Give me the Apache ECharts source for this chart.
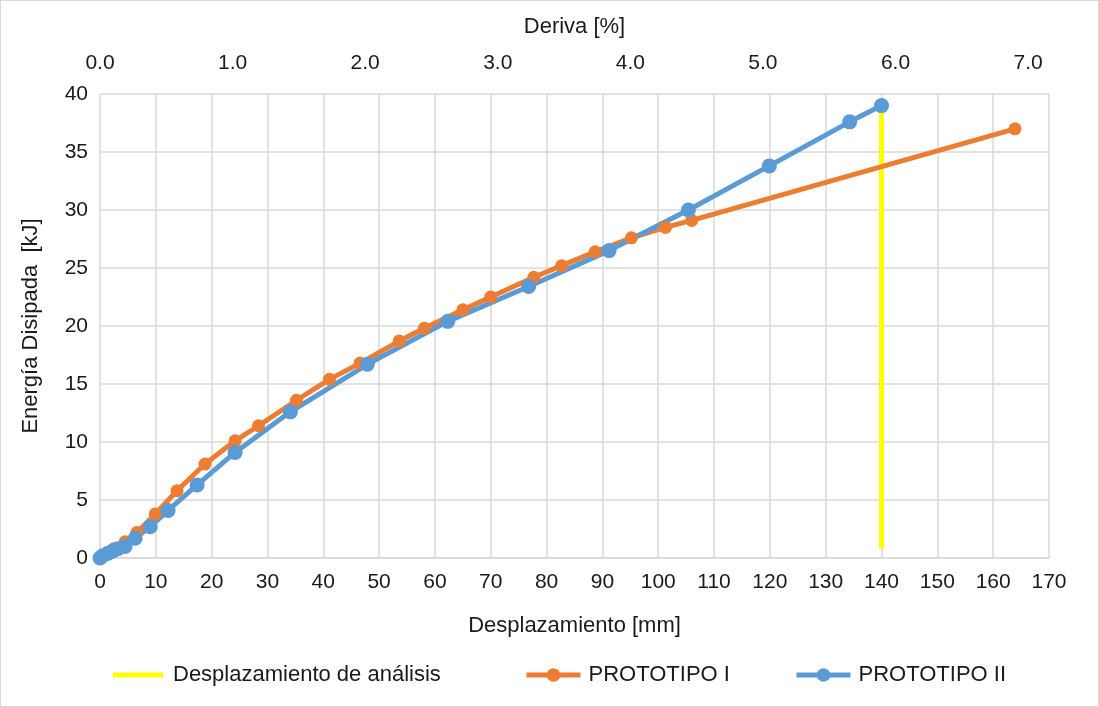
<html>

<head>
    <meta http-equiv="Content-Type" content="text/html; charset=utf-8" />
    <title>Energía disipada</title>
    <style type="text/css">
        * {
            margin: 0;
            padding: 0
        }

        html,
        body {
            width: 100%;
            height: 100%;
            background: #fff;
        }

        #chart {
            width: 1097px;
            height: 705px;
            border: 1px solid #d9d9d9;
        }
    </style>
</head>

<body>
    <div id="chart"></div>
    <script src="https://cdn.jsdelivr.net/npm/echarts@6/dist/echarts.min.js"></script>
    <script>
        // datos
        const dispP1 = [0, 0.5, 1.4, 2.5, 4.5, 6.6, 9.9, 13.8, 18.8, 24.2, 28.4, 35.2, 41.1, 46.6, 53.6, 58.1, 65.0, 70.0, 77.7, 82.7, 88.7, 95.2, 101.3, 106.0, 163.9];
        const energyP1 = [0, 0.2, 0.4, 0.8, 1.4, 2.2, 3.8, 5.8, 8.1, 10.1, 11.4, 13.6, 15.4, 16.8, 18.7, 19.8, 21.4, 22.5, 24.2, 25.2, 26.4, 27.6, 28.5, 29.1, 37.0];
        const dispP2 = [0, 0.5, 1.4, 2.3, 3.2, 4.5, 6.3, 9.0, 12.2, 17.4, 24.2, 34.1, 47.9, 62.3, 76.8, 91.2, 105.4, 119.9, 134.3, 140.0];
        const energyP2 = [0, 0.2, 0.4, 0.6, 0.8, 1.0, 1.7, 2.7, 4.1, 6.3, 9.1, 12.6, 16.7, 20.4, 23.4, 26.5, 30.0, 33.8, 37.6, 39.0];
        const analysisX = [140, 140];
        const analysisY = [0.8, 39.0];
        const driftMax = 170 / 23.75; // deriva [%] al final del eje inferior

        const zip = (xs, ys) => xs.map((x, i) => [x, ys[i]]);

        const font = 'Liberation Sans, Arial, sans-serif';
        const gridColor = '#d9d9d9';
        const textColor = '#1a1a1a';

        // una leyenda por serie, para ubicarlas como en Excel
        const legendItem = (name, left, icon) => ({
            left: left,
            bottom: 15,
            itemWidth: 54,
            itemHeight: 17,
            lineStyle: { width: 5 },
            textStyle: { fontSize: 22, color: textColor, fontFamily: font, padding: [0, 0, 0, 3] },
            data: [icon ? { name: name, icon: icon } : name]
        });

        const chart = echarts.init(document.querySelector('#chart'));
        chart.setOption({
            animation: false,
            textStyle: { fontFamily: font },
            grid: { left: 99, right: 49, top: 93, bottom: 148 },
            legend: [
                legendItem('Desplazamiento de análisis', 107, 'path://M0 0h0.01v17h-0.01zM0 6h50v5H0z'),
                legendItem('PROTOTIPO I', 518),
                legendItem('PROTOTIPO II', 788)
            ],
            xAxis: [{
                type: 'value',
                min: 0,
                max: 170,
                interval: 10,
                name: 'Desplazamiento [mm]',
                nameLocation: 'middle',
                nameGap: 57,
                nameTextStyle: { fontSize: 22, color: textColor },
                axisLine: { lineStyle: { color: gridColor, width: 1.5 } },
                axisTick: { show: false },
                axisLabel: { fontSize: 21, color: textColor, margin: 14 },
                splitLine: { lineStyle: { color: gridColor, width: 1.5 } }
            }, {
                type: 'value',
                position: 'top',
                min: 0,
                max: driftMax,
                interval: 1,
                name: 'Deriva [%]',
                nameLocation: 'middle',
                nameGap: 56,
                nameTextStyle: { fontSize: 22, color: textColor },
                axisLine: { show: false },
                axisTick: { show: false },
                axisLabel: {
                    fontSize: 21, color: textColor, margin: 20,
                    showMaxLabel: false,
                    formatter: v => v.toFixed(1)
                },
                splitLine: { show: false }
            }],
            yAxis: {
                type: 'value',
                min: 0,
                max: 40,
                interval: 5,
                name: 'Energía Disipada  [kJ]',
                nameLocation: 'middle',
                nameGap: 58,
                nameTextStyle: { fontSize: 22, color: textColor },
                axisLine: { show: false },
                axisTick: { show: false },
                axisLabel: { fontSize: 21, color: textColor, margin: 12 },
                splitLine: { lineStyle: { color: gridColor, width: 1.5 } }
            },
            series: [{
                name: 'Desplazamiento de análisis',
                type: 'line',
                data: zip(analysisX, analysisY),
                symbol: 'none',
                color: '#ffff00',
                lineStyle: { width: 5, color: '#ffff00', cap: 'butt' }
            }, {
                name: 'PROTOTIPO I',
                type: 'line',
                data: zip(dispP1, energyP1),
                symbol: 'circle',
                symbolSize: 13,
                color: '#ed7d31',
                lineStyle: { width: 5, color: '#ed7d31' }
            }, {
                name: 'PROTOTIPO II',
                type: 'line',
                data: zip(dispP2, energyP2),
                symbol: 'circle',
                symbolSize: 15,
                color: '#5b9bd5',
                lineStyle: { width: 5, color: '#5b9bd5' }
            }]
        });
    </script>
</body>

</html>
